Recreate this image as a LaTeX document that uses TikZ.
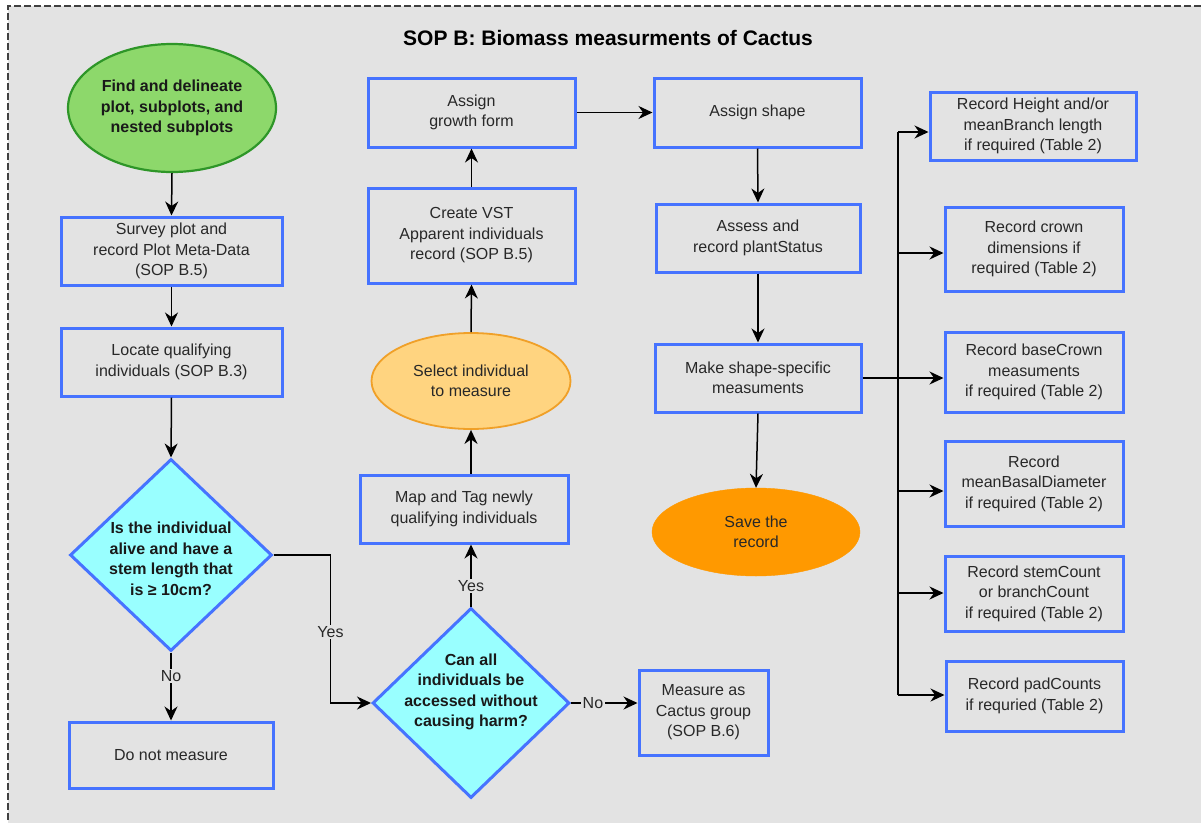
\documentclass[tikz,border=0pt]{standalone}
\usepackage{fontspec}
\setmainfont{Liberation Sans}
\usetikzlibrary{shapes.geometric,arrows.meta}
\definecolor{bgc}{RGB}{227,227,227}
\definecolor{boxblue}{RGB}{70,115,255}
\definecolor{txt}{RGB}{40,40,40}
\definecolor{cyanf}{RGB}{153,255,255}
\definecolor{greenf}{RGB}{141,216,107}
\definecolor{greend}{RGB}{46,150,40}
\definecolor{selfill}{RGB}{255,212,128}
\definecolor{seldraw}{RGB}{240,160,40}
\definecolor{savef}{RGB}{255,153,0}
\begin{document}
\begin{tikzpicture}[x=1pt,y=-1pt,
  base/.style={font=\fontsize{16}{20.5}\selectfont, align=center, text=txt},
  boldtxt/.style={font=\bfseries\fontsize{16}{20.5}\selectfont, align=center, text=black!90},
  box/.style={base, draw=boxblue, line width=3pt, rectangle, inner sep=0pt},
  dia/.style={diamond, draw=boxblue, fill=cyanf, line width=3pt, inner sep=0pt},
  arr/.style={-{Stealth[length=14pt,width=13pt,inset=4.5pt]}, line width=1.5pt},
  plain/.style={line width=1.5pt},
  lbl/.style={base, fill=bgc, inner sep=1.5pt}
]
\useasboundingbox (0,0) rectangle (1201,822);
\fill[white] (0,0) rectangle (1201,822);
\fill[bgc] (8,6) rectangle (1215,830);
\draw[black!75, line width=1.3pt, dash pattern=on 7pt off 3pt] (8,830) -- (8,6) -- (1215,6);

\node[font=\bfseries\fontsize{21}{24}\selectfont, text=black] (title) at (608,38) {SOP B: Biomass measurments of Cactus};

% left column
\node[ellipse, draw=greend, fill=greenf, line width=2.2pt, minimum width=208pt, minimum height=128pt, inner sep=0pt, boldtxt] (start) at (172,108) {Find and delineate\\plot, subplots, and\\nested subplots};
\node[box, minimum width=221pt, minimum height=68pt] (survey) at (171.5,251) {Survey plot and\\record Plot Meta-Data\\(SOP B.5)};
\node[box, minimum width=221pt, minimum height=68pt] (locate) at (171.5,362) {Locate qualifying\\individuals (SOP B.3)};
\node[dia, minimum width=202pt, minimum height=192pt,
  label={[boldtxt, yshift=-4pt]center:Is the individual\\alive and have a\\stem length that\\is ≥ 10cm?}] (d1) at (171,555) {};
\node[box, minimum width=204pt, minimum height=66pt] (dnm) at (171,755) {Do not measure};

% middle column
\node[dia, minimum width=197pt, minimum height=190pt,
  label={[boldtxt, yshift=11pt]center:Can all\\individuals be\\accessed without\\causing harm?}] (d2) at (471,703) {};
\node[box, minimum width=129pt, minimum height=85pt] (meas) at (703.5,712.5) {Measure as\\Cactus group\\(SOP B.6)};
\node[box, minimum width=208pt, minimum height=68pt] (map) at (464,509) {Map and Tag newly\\qualifying individuals};
\node[ellipse, draw=seldraw, fill=selfill, line width=1.8pt, minimum width=199pt, minimum height=96pt, inner sep=0pt, base] (sel) at (471,381) {Select individual\\to measure};
\node[box, minimum width=207pt, minimum height=95pt] (vst) at (471.5,235.5) {Create VST\\Apparent individuals\\record (SOP B.5)};
\node[box, minimum width=207pt, minimum height=69pt] (gf) at (471.5,112.5) {Assign\\growth form};

% third column
\node[box, minimum width=207pt, minimum height=69pt] (as) at (757.5,112.5) {Assign shape};
\node[box, minimum width=204pt, minimum height=68pt] (assess) at (758,238) {Assess and\\record plantStatus};
\node[box, minimum width=206pt, minimum height=68pt] (make) at (758,378) {Make shape-specific\\measuments};
\node[ellipse, fill=savef, draw=savef, minimum width=208pt, minimum height=88pt, inner sep=0pt, base] (save) at (756,532) {Save the\\record};

% right column
\node[box, minimum width=206pt, minimum height=68pt] (rh) at (1033,126) {Record Height and/or\\meanBranch length\\if required (Table 2)};
\node[box, minimum width=178pt, minimum height=84pt] (rc) at (1034,249) {Record crown\\dimensions if\\required (Table 2)};
\node[box, minimum width=178pt, minimum height=80pt] (bc) at (1034,372) {Record baseCrown\\measuments\\if required (Table 2)};
\node[box, minimum width=178pt, minimum height=85pt] (mb) at (1034,483.5) {Record\\meanBasalDiameter\\if required (Table 2)};
\node[box, minimum width=178pt, minimum height=75pt] (sc) at (1034,593.5) {Record stemCount\\or branchCount\\if required (Table 2)};
\node[box, minimum width=177pt, minimum height=70pt] (pc) at (1034.5,696) {Record padCounts\\if requried (Table 2)};

% connectors left
\draw[arr] (start.south) -- (survey.north);
\draw[arr] (survey.south) -- (locate.north);
\draw[arr] (locate.south) -- (d1.north);
\draw[arr] (d1.south) -- node[lbl, pos=0.35] {No} (dnm.north);
\draw[arr] (d1.east) -- ++(57,0) |- node[lbl, pos=0.26] {Yes} (d2.west);

% connectors middle
\draw[arr] (d2.east) -- node[lbl, pos=0.33] {No} (d2.east -| meas.west);
\draw[arr] (d2.north) -- node[lbl, pos=0.33] {Yes} (d2.north |- map.south);
\draw[arr] (sel.south |- map.north) -- (sel.south);
\draw[arr] (sel.north) -- (vst.south);
\draw[arr] (vst.north) -- (gf.south);
\draw[arr] (gf.east) -- (as.west);
\draw[arr] (as.south) -- (assess.north);
\draw[arr] (assess.south) -- (make.north);
\draw[arr] (make.south) -- (save.north);
\draw[arr] (make.east) -- (make.east -| bc.west);

% bus
\coordinate (bT) at (898,132);
\coordinate (b2) at (898,253);
\coordinate (b4) at (898,491);
\coordinate (b5) at (898,593);
\coordinate (bB) at (898,695);
\draw[plain] (bT) -- (bB);
\draw[arr] (bT) -- (bT -| rh.west);
\draw[arr] (b2) -- (b2 -| rc.west);
\draw[arr] (b4) -- (b4 -| mb.west);
\draw[arr] (b5) -- (b5 -| sc.west);
\draw[arr] (bB) -- (bB -| pc.west);
\end{tikzpicture}
\end{document}
